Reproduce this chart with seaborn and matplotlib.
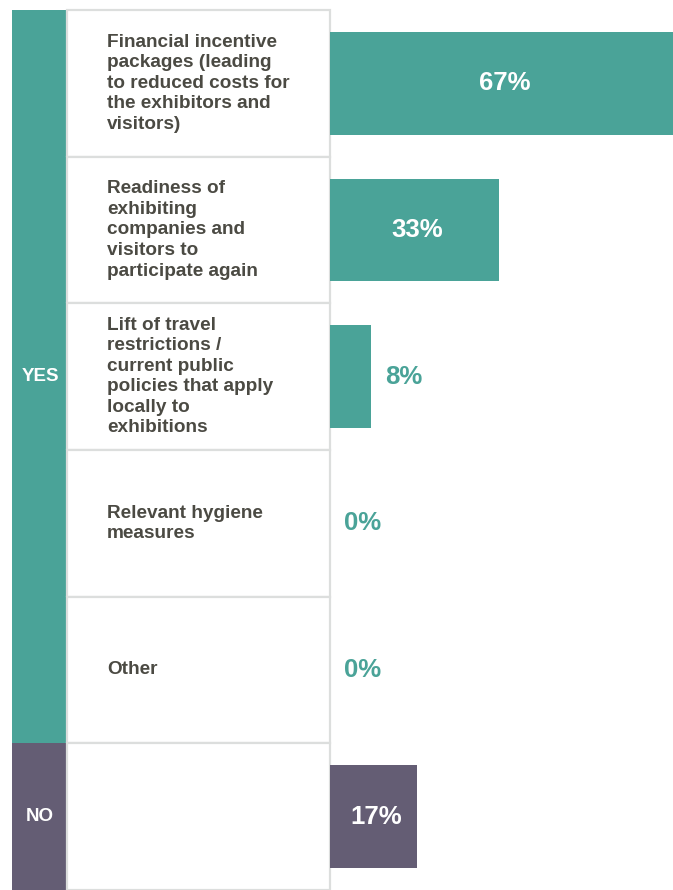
import numpy as np
import pandas as pd
import seaborn as sns
import matplotlib.pyplot as plt
from matplotlib.patches import Rectangle

# data
reasons = [
    "Financial incentive\npackages (leading\nto reduced costs for\nthe exhibitors and\nvisitors)",
    "Readiness of\nexhibiting\ncompanies and\nvisitors to\nparticipate again",
    "Lift of travel\nrestrictions /\ncurrent public\npolicies that apply\nlocally to\nexhibitions",
    "Relevant hygiene\nmeasures",
    "Other",
    "",
]
answers = ["YES", "YES", "YES", "YES", "YES", "NO"]
shares = [67, 33, 8, 0, 0, 17]

teal = "#4aa398"
purple = "#645d74"
txt_col = "#4b4a43"
grid_col = "#dcdedd"

df = pd.DataFrame({"row": [str(i) for i in range(len(shares))],
                   "answer": answers, "share": shares})

sns.set_style("white")
plt.rcParams["font.family"] = ["Liberation Sans", "DejaVu Sans"]

W, H = 673, 890
fig = plt.figure(figsize=(W / 100, H / 100), dpi=100)

# left part (group band + label column) in pixel coords
bg = fig.add_axes([0, 0, 1, 1])
bg.set_xlim(0, W)
bg.set_ylim(H, 0)
bg.axis("off")

top = 10
n = len(shares)
row_h = (H - top) / n
for i, (lab, grp) in enumerate(zip(reasons, answers)):
    y0 = top + i * row_h
    bg.add_patch(Rectangle((12, y0), 55, row_h, color=teal if grp == "YES" else purple, lw=0))
    bg.add_patch(Rectangle((67, y0), 263, row_h, facecolor="white", edgecolor=grid_col, lw=1.6))
    bg.text(107, y0 + row_h / 2, lab, ha="left", va="center", fontsize=13.7,
            fontweight="bold", color=txt_col, linespacing=1.27)

# group labels
for grp in ["YES", "NO"]:
    idx = [i for i, a in enumerate(answers) if a == grp]
    yc = top + (idx[0] + idx[-1] + 1) / 2 * row_h
    bg.text(40, yc, grp, ha="center", va="center", fontsize=13.5,
            fontweight="bold", color="white")

# bars
ax = fig.add_axes([330 / W, 0, 343 / W, (H - top) / H])
ax.patch.set_visible(False)
sns.barplot(data=df, x="share", y="row", hue="answer", orient="h",
            palette={"YES": teal, "NO": purple}, width=0.7, dodge=False,
            legend=False, ax=ax, saturation=1, linewidth=0)
ax.set_xlim(0, 67)
ax.set_ylim(n - 0.5, -0.5)
ax.axis("off")

for i, (v, grp) in enumerate(zip(shares, answers)):
    c = teal if grp == "YES" else purple
    if v >= 15:
        ax.annotate(f"{v}%", (v / 2, i), xytext=(2, 0), textcoords="offset points",
                    ha="center", va="center", fontsize=18.5, fontweight="bold", color="white")
    else:
        ax.annotate(f"{v}%", (v, i), xytext=(10, 0), textcoords="offset points",
                    ha="left", va="center", fontsize=18.5, fontweight="bold", color=c)

fig.savefig("out.png", dpi=100, facecolor="white")
